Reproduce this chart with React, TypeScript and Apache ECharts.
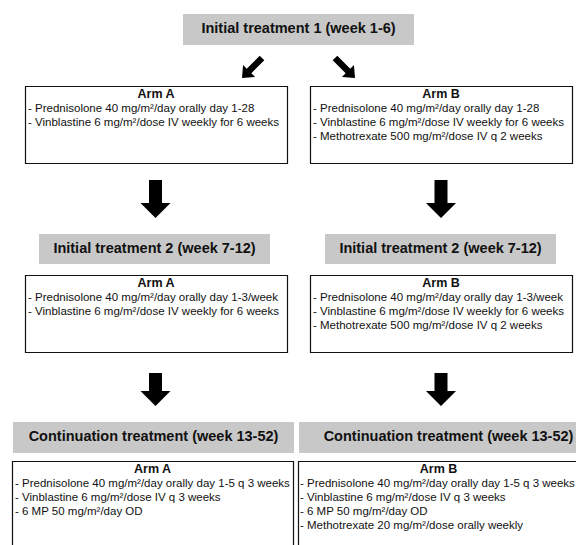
import React, { useEffect, useRef } from "react";
import * as echarts from "echarts";

// ---- content ----
const headers = [
  "Initial treatment 1 (week 1-6)",
  "Initial treatment 2 (week 7-12)",
  "Continuation treatment (week 13-52)",
];
const armNames = ["Arm A", "Arm B"];
const armA1 = [
  "- Prednisolone 40 mg/m²/day orally day 1-28",
  "- Vinblastine 6 mg/m²/dose IV weekly for 6 weeks",
];
const armB1 = [
  "- Prednisolone 40 mg/m²/day orally day 1-28",
  "- Vinblastine 6 mg/m²/dose IV weekly for 6 weeks",
  "- Methotrexate 500 mg/m²/dose IV q 2 weeks",
];
const armA2 = [
  "- Prednisolone 40 mg/m²/day orally day 1-3/week",
  "- Vinblastine 6 mg/m²/dose IV weekly for 6 weeks",
];
const armB2 = [
  "- Prednisolone 40 mg/m²/day orally day 1-3/week",
  "- Vinblastine 6 mg/m²/dose IV weekly for 6 weeks",
  "- Methotrexate 500 mg/m²/dose IV q 2 weeks",
];
const armA3 = [
  "- Prednisolone 40 mg/m²/day orally day 1-5 q 3 weeks",
  "- Vinblastine 6 mg/m²/dose IV q 3 weeks",
  "- 6 MP 50 mg/m²/day OD",
];
const armB3 = [
  "- Prednisolone 40 mg/m²/day orally day 1-5 q 3 weeks",
  "- Vinblastine 6 mg/m²/dose IV q 3 weeks",
  "- 6 MP 50 mg/m²/day OD",
  "- Methotrexate 20 mg/m²/dose orally weekly",
];

const FONT = '"Liberation Sans", Arial, Helvetica, sans-serif';
const GREY = "#c8c8c8";
const INK = "#111111";

function arrowPoints(
  x1: number, y1: number, x2: number, y2: number,
  shaftW: number, headW: number, headL: number
) {
  const dx = x2 - x1, dy = y2 - y1;
  const L = Math.hypot(dx, dy);
  const ux = dx / L, uy = dy / L;
  const px = -uy, py = ux;
  const bx = x2 - ux * headL, by = y2 - uy * headL;
  return [
    [x1 + (px * shaftW) / 2, y1 + (py * shaftW) / 2],
    [bx + (px * shaftW) / 2, by + (py * shaftW) / 2],
    [bx + (px * headW) / 2, by + (py * headW) / 2],
    [x2, y2],
    [bx - (px * headW) / 2, by - (py * headW) / 2],
    [bx - (px * shaftW) / 2, by - (py * shaftW) / 2],
    [x1 - (px * shaftW) / 2, y1 - (py * shaftW) / 2],
  ];
}

function greyHeader(x: number, y: number, w: number, h: number, text: string) {
  return [
    { type: "rect", shape: { x, y, width: w, height: h }, style: { fill: GREY } },
    {
      type: "text",
      x: x + w / 2,
      y: y + h * 0.45,
      style: {
        text,
        font: `bold 14.5px ${FONT}`,
        fill: INK,
        textAlign: "center",
        textVerticalAlign: "middle",
        align: "center",
        verticalAlign: "middle",
      },
    },
  ];
}

function armBox(
  x: number, y: number, w: number, h: number,
  name: string, lines: string[], inset = 3
) {
  const els: any[] = [
    {
      type: "rect",
      shape: { x: x + 0.5, y: y + 0.5, width: w, height: h },
      style: { fill: "#ffffff", stroke: INK, lineWidth: 1.2 },
    },
    {
      type: "text",
      x: x + w / 2,
      y: y + 8,
      style: {
        text: name,
        font: `bold 12.5px ${FONT}`,
        fill: INK,
        textAlign: "center",
        textVerticalAlign: "middle",
        align: "center",
        verticalAlign: "middle",
      },
    },
  ];
  lines.forEach((t, i) => {
    els.push({
      type: "text",
      x: x + inset,
      y: y + 22 + i * 14,
      style: {
        text: t,
        font: `11.5px ${FONT}`,
        fill: INK,
        textAlign: "left",
        textVerticalAlign: "middle",
        align: "left",
        verticalAlign: "middle",
      },
    });
  });
  return els;
}

function arrow(x1: number, y1: number, x2: number, y2: number, sw: number, hw: number, hl: number) {
  return {
    type: "polygon",
    shape: { points: arrowPoints(x1, y1, x2, y2, sw, hw, hl) },
    style: { fill: "#000000" },
  };
}

export default function App() {
  const ref = useRef<HTMLDivElement>(null);
  useEffect(() => {
    document.body.style.margin = "0";
    if (!ref.current) return;
    const chart = echarts.init(ref.current, undefined, { renderer: "svg" });
    const elements: any[] = [
      // row 1
      ...greyHeader(183, 14, 231, 31, headers[0]),
      arrow(262, 58, 242, 78, 6.5, 17, 10),
      arrow(335, 58, 355, 78, 6.5, 17, 10),
      ...armBox(25, 86, 262, 77, armNames[0], armA1),
      ...armBox(310, 86, 262, 77, armNames[1], armB1),
      arrow(155.5, 180, 155.5, 218, 13, 30, 15),
      arrow(441, 180, 441, 218, 13, 30, 15),
      // row 2
      ...greyHeader(39, 234, 231, 30, headers[1]),
      ...greyHeader(325, 234, 231, 30, headers[1]),
      ...armBox(25, 275, 262, 77, armNames[0], armA2),
      ...armBox(310, 275, 262, 77, armNames[1], armB2),
      arrow(155.5, 373, 155.5, 406, 13, 30, 15),
      arrow(441, 373, 441, 406, 13, 30, 15),
      // row 3
      ...greyHeader(13, 422, 281, 31, headers[2]),
      ...greyHeader(299, 422, 299, 31, headers[2]),
      ...armBox(12, 461, 281, 140, armNames[0], armA3),
      ...armBox(298, 461, 281, 140, armNames[1], armB3, 2),
    ];
    chart.setOption({
      animation: false,
      backgroundColor: "#ffffff",
      graphic: { elements },
    });
    return () => chart.dispose();
  }, []);
  return <div ref={ref} style={{ width: 576, height: 545 }} />;
}
